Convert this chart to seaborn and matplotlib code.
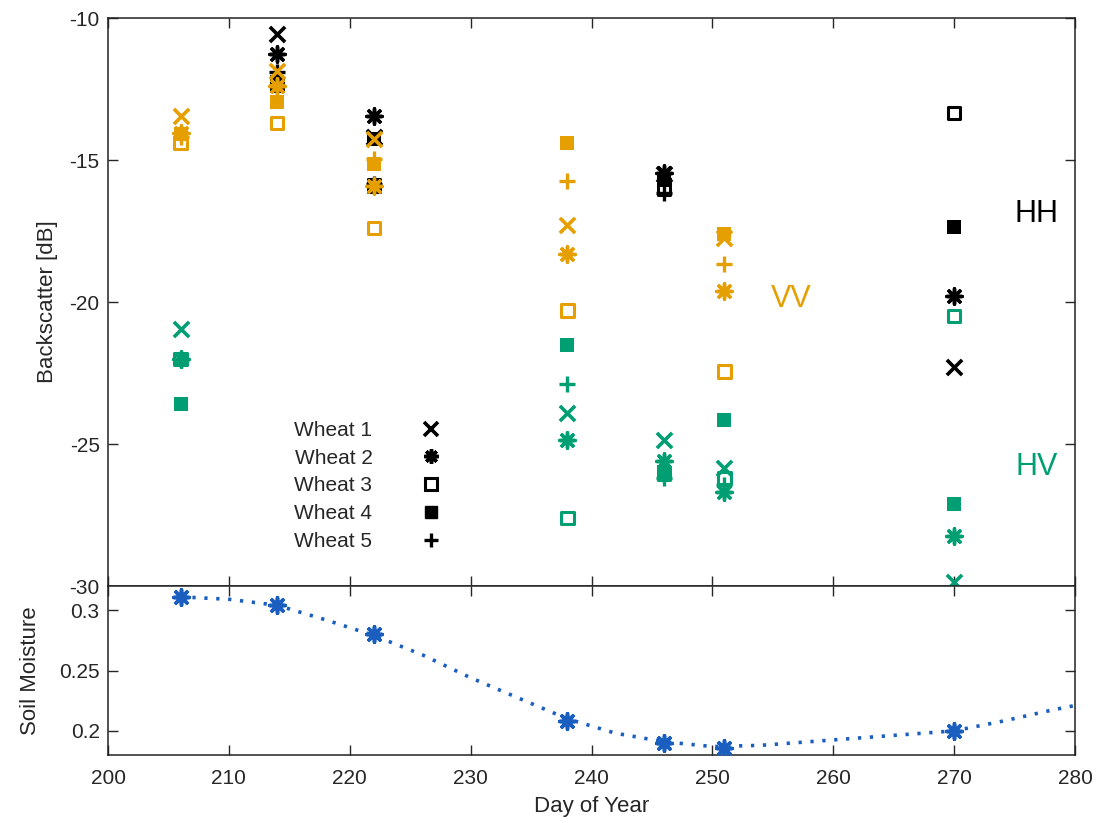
import numpy as np
import pandas as pd
import matplotlib
matplotlib.use("Agg")
import matplotlib.pyplot as plt
import seaborn as sns
from matplotlib.lines import Line2D
from matplotlib.markers import MarkerStyle

nan = np.nan

# ---------------- data ----------------
days = [206, 214, 222, 238, 246, 251, 270]
wheats = ["Wheat 1", "Wheat 2", "Wheat 3", "Wheat 4", "Wheat 5"]

hh_w1 = [nan, -10.55, -14.2, nan, -15.5, nan, -22.3]
hh_w2 = [nan, -11.25, -13.45, nan, -15.45, nan, -19.8]
hh_w3 = [nan, -12.35, -15.9, nan, -16.0, nan, -13.35]
hh_w4 = [nan, -12.25, -14.25, nan, -15.7, nan, -17.35]
hh_w5 = [nan, -11.9, -15.85, nan, -16.15, nan, nan]

vv_w1 = [-13.45, -11.85, -14.25, -17.3, nan, -17.75, nan]
vv_w2 = [-14.05, -12.4, -15.9, -18.3, nan, -19.6, nan]
vv_w3 = [-14.4, -13.7, -17.4, -20.3, nan, -22.45, nan]
vv_w4 = [-14.1, -12.95, -15.15, -14.4, nan, -17.6, nan]
vv_w5 = [-14.2, -12.35, -14.95, -15.75, nan, -18.65, nan]

hv_w1 = [-20.95, nan, nan, -23.9, -24.85, -25.85, -29.85]
hv_w2 = [-22.0, nan, nan, -24.85, -25.6, -26.7, -28.25]
hv_w3 = [-22.0, nan, nan, -27.6, -26.05, -26.2, -20.5]
hv_w4 = [-23.6, nan, nan, -21.5, -26.0, -24.15, -27.1]
hv_w5 = [-22.05, nan, nan, -22.9, -26.2, -26.45, nan]

sm_days = [206, 214, 222, 238, 246, 251, 270]
sm_vals = [0.311, 0.304, 0.280, 0.208, 0.190, 0.186, 0.200]

fit_days = [206, 210, 214, 218, 222, 226, 230, 234, 238, 242, 246, 250,
            254, 258, 262, 266, 270, 274, 278, 280]
fit_vals = [0.311, 0.309, 0.304, 0.292, 0.279, 0.263, 0.244, 0.227, 0.210,
            0.198, 0.191, 0.187, 0.188, 0.191, 0.194, 0.197, 0.200, 0.208,
            0.217, 0.221]

# ---------------- style ----------------
sns.set_theme(style="ticks")
plt.rcParams["font.family"] = ["Liberation Sans", "DejaVu Sans"]
plt.rcParams["axes.unicode_minus"] = False

C_HH = "#000000"
C_VV = "#E69F00"
C_HV = "#009E73"
C_SM = "#1A5FBF"

markers = {
    "Wheat 1": "x",
    "Wheat 2": (8, 2, 0),
    "Wheat 3": MarkerStyle("s", fillstyle="none"),
    "Wheat 4": "s",
    "Wheat 5": "+",
}
sizes = {"Wheat 1": 120, "Wheat 2": 120, "Wheat 3": 80, "Wheat 4": 90, "Wheat 5": 120}
lws = {"Wheat 1": 2.6, "Wheat 2": 2.5, "Wheat 3": 2.2, "Wheat 4": 0, "Wheat 5": 2.4}

fig = plt.figure(figsize=(11.04, 8.23), dpi=100)
L, R = 108 / 1104, 1075 / 1104
ax = fig.add_axes([L, 1 - 586 / 823, R - L, (586 - 18) / 823])
ax2 = fig.add_axes([L, 1 - 755 / 823, R - L, (755 - 586) / 823])

series = [
    (C_HH, [hh_w1, hh_w2, hh_w3, hh_w4, hh_w5]),
    (C_VV, [vv_w1, vv_w2, vv_w3, vv_w4, vv_w5]),
    (C_HV, [hv_w1, hv_w2, hv_w3, hv_w4, hv_w5]),
]
for color, vals in series:
    for w, v in zip(wheats, vals):
        df = pd.DataFrame({"day": days, "db": v}).dropna()
        sns.scatterplot(data=df, x="day", y="db", ax=ax, marker=markers[w],
                        color=color, s=sizes[w], linewidth=lws[w],
                        legend=False, zorder=3, clip_on=True)

ax.set_xlim(200, 280)
ax.set_ylim(-30, -10)
ax.set_yticks([-10, -15, -20, -25, -30])
ax.set_xticks(range(200, 281, 10))
ax.tick_params(axis="both", direction="in", top=True, right=True, length=7,
               width=1, labelsize=15, labelbottom=False, pad=6)
ax.set_xlabel("")
ax.set_ylabel("Backscatter [dB]", fontsize=16, labelpad=8)

ax.text(276.8, -16.9, "HH", color=C_HH, fontsize=22, ha="center", va="center")
ax.text(256.5, -19.9, "VV", color=C_VV, fontsize=22, ha="center", va="center")
ax.text(276.8, -25.8, "HV", color=C_HV, fontsize=22, ha="center", va="center")

handles = [Line2D([], [], linestyle="none", marker=markers[w], color="black",
                  markersize=np.sqrt(sizes[w]) * 0.95,
                  markeredgewidth=(lws[w] if lws[w] else 1.0))
           for w in wheats]
leg = ax.legend(handles, wheats, loc="upper left", bbox_to_anchor=(0.182, 0.309),
                frameon=False, markerfirst=False, fontsize=15, handlelength=1.0,
                handletextpad=2.3, labelspacing=0.42, borderpad=0)

# soil moisture panel
sns.lineplot(x=fit_days, y=fit_vals, ax=ax2, color=C_SM, linewidth=2.6,
             linestyle=(0, (0.9, 2.4)), zorder=2)
sns.scatterplot(x=sm_days, y=sm_vals, ax=ax2, marker=(8, 2, 0), color=C_SM,
                s=120, linewidth=2.6, zorder=3, legend=False)
ax2.set_xlim(200, 280)
ax2.set_ylim(0.18, 0.32)
ax2.set_yticks([0.2, 0.25, 0.3])
ax2.set_yticklabels(["0.2", "0.25", "0.3"])
ax2.set_xticks(range(200, 281, 10))
ax2.tick_params(axis="both", direction="in", top=True, right=True, length=7,
                width=1, labelsize=15, pad=10)
ax2.tick_params(axis="y", pad=6)
ax2.set_xlabel("Day of Year", fontsize=16, labelpad=6)
ax2.set_ylabel("Soil Moisture", fontsize=16, labelpad=13)

for a in (ax, ax2):
    for s in a.spines.values():
        s.set_linewidth(1.1)
        s.set_color("#222222")

fig.savefig("out.png", dpi=100)
